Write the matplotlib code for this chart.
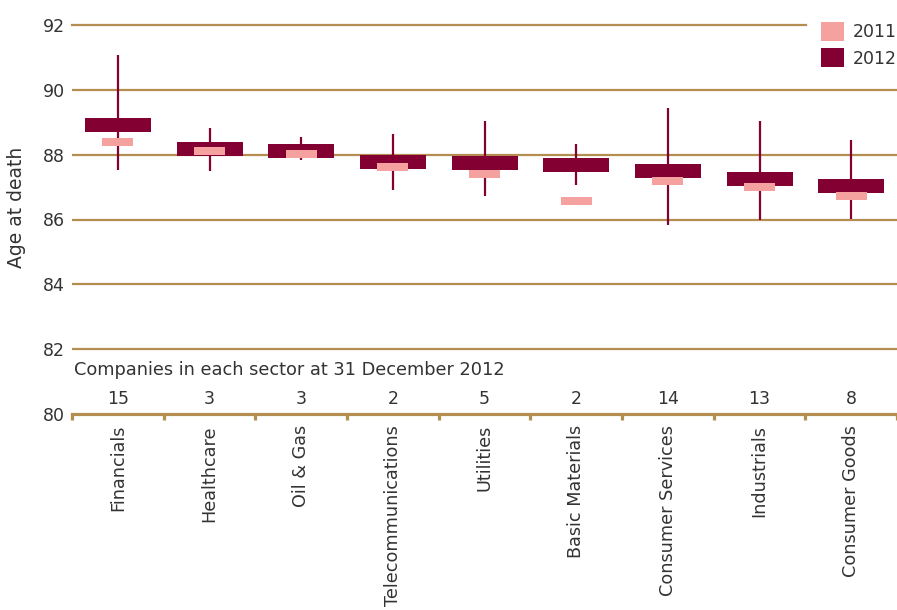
import matplotlib
matplotlib.use('Agg')
import matplotlib.pyplot as plt
from matplotlib.patches import Patch

sectors = ['Financials', 'Healthcare', 'Oil & Gas', 'Telecommunications', 'Utilities',
           'Basic Materials', 'Consumer Services', 'Industrials', 'Consumer Goods']
companies = [15, 3, 3, 2, 5, 2, 14, 13, 8]
low_2012 = [88.70, 87.96, 87.90, 87.56, 87.53, 87.47, 87.28, 87.03, 86.82]
high_2012 = [89.13, 88.39, 88.33, 87.99, 87.96, 87.90, 87.71, 87.47, 87.25]
low_2011 = [88.27, 87.99, 87.90, 87.50, 87.28, 86.45, 87.06, 86.88, 86.60]
high_2011 = [88.51, 88.24, 88.14, 87.74, 87.53, 86.69, 87.31, 87.13, 86.85]
range_min = [87.53, 87.50, 87.84, 86.91, 86.73, 87.06, 85.83, 85.99, 86.02]
range_max = [91.07, 88.82, 88.55, 88.64, 89.04, 88.33, 89.44, 89.04, 88.45]

maroon = '#830032'
pink = '#F5A19F'
gold = '#B38E50'
txt = '#333333'

plt.rcParams['font.family'] = ['DejaVu Sans']
plt.rcParams['text.color'] = txt

fig = plt.figure(figsize=(8.97, 6.10), dpi=100)
ax = fig.add_axes([72 / 897, 1 - 414 / 610, 825 / 897, 389 / 610])

pos = [i + 0.5 for i in range(len(sectors))]

# gridlines (top one stops short of the legend)
for g in [82, 84, 86, 88, 90]:
    ax.axhline(g, color=gold, lw=1.6, zorder=1)
ax.axhline(92, xmax=0.89, color=gold, lw=1.6, zorder=1, clip_on=False)

# range lines, then 2012 box, then 2011 box on top
ax.vlines(pos, range_min, range_max, color=maroon, lw=1.6, zorder=2)
h2012 = [h - l for h, l in zip(high_2012, low_2012)]
h2011 = [h - l for h, l in zip(high_2011, low_2011)]
ax.bar(pos, h2012, bottom=low_2012, width=0.72, color=maroon, zorder=3)
ax.bar(pos, h2011, bottom=low_2011, width=0.34, color=pink, zorder=4)

ax.set_xlim(0, len(sectors))
ax.set_ylim(80, 92)

for s in ['top', 'right', 'left']:
    ax.spines[s].set_visible(False)
ax.spines['bottom'].set_color(gold)
ax.spines['bottom'].set_linewidth(2.3)

ax.set_yticks([80, 82, 84, 86, 88, 90, 92])
ax.tick_params(axis='y', length=0, pad=5, labelsize=12.5, labelcolor=txt)

ax.set_xticks(range(len(sectors) + 1))
ax.set_xticklabels([])
ax.tick_params(axis='x', which='major', direction='out', length=4.5, width=2.3, color=gold)
ax.set_xticks(pos, minor=True)
ax.set_xticklabels(sectors, minor=True, rotation=90, fontsize=12.7, color=txt, va='top')
ax.tick_params(axis='x', which='minor', length=0, pad=8)

for p, n in zip(pos, companies):
    ax.text(p, 80.47, str(n), ha='center', va='center', fontsize=12.5)
ax.text(0.02, 81.36, 'Companies in each sector at 31 December 2012', ha='left', va='center', fontsize=12.8)

fig.text(17 / 897, 1 - 207 / 610, 'Age at death', rotation=90, ha='center', va='center', fontsize=13.5)

handles = [Patch(facecolor=pink, label='2011'), Patch(facecolor=maroon, label='2012')]
ax.legend(handles=handles, loc='upper left', bbox_to_anchor=(821 / 897, 1 - 22 / 610),
          bbox_transform=fig.transFigure, frameon=False, fontsize=12.5, borderpad=0,
          borderaxespad=0, handlelength=1.3, handleheight=1.3, handletextpad=0.55,
          labelspacing=0.4)

fig.savefig('out.png', dpi=100)
